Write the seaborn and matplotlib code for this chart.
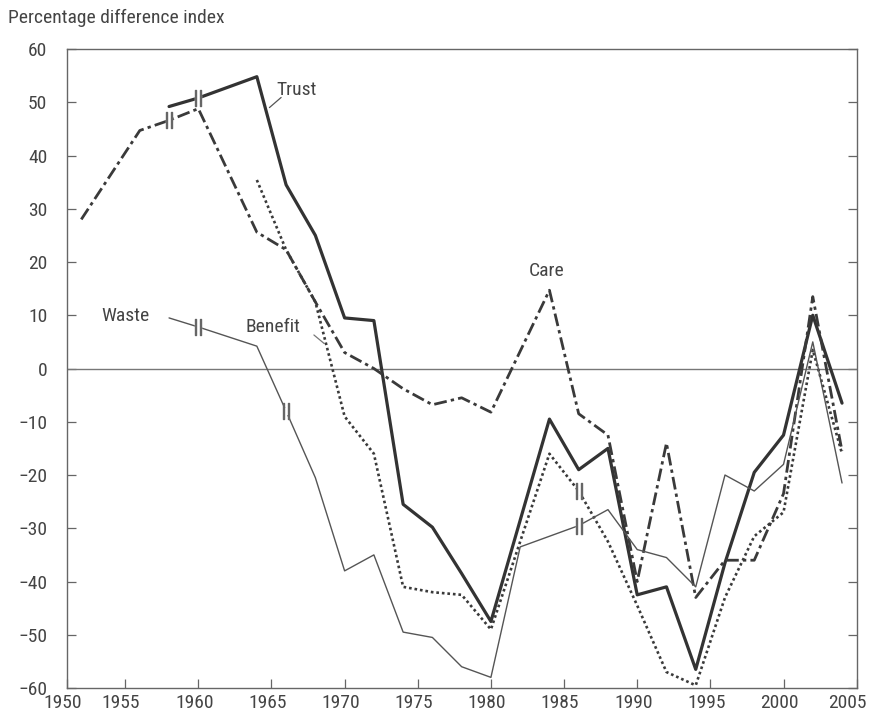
import seaborn as sns
import matplotlib.pyplot as plt
import matplotlib.transforms as mtransforms
import pandas as pd
from matplotlib import font_manager

# values
trust_years = [1958, 1960, 1964, 1966, 1968, 1970, 1972, 1974, 1976, 1978, 1980,
               1984, 1986, 1988, 1990, 1992, 1994, 1996, 1998, 2000, 2002, 2004]
trust = [49.2, 50.8, 54.8, 34.5, 25.0, 9.5, 9.0, -25.5, -29.8, -38.5, -47.5,
         -9.5, -19.0, -15.0, -42.5, -41.0, -56.5, -36.5, -19.5, -12.5, 10.0, -6.5]

care_years = [1952, 1956, 1958, 1960, 1964, 1966, 1968, 1970, 1972, 1974, 1976, 1978,
              1980, 1984, 1986, 1988, 1990, 1992, 1994, 1996, 1998, 2000, 2002, 2004]
care = [28.0, 44.7, 46.6, 48.8, 25.6, 22.3, 12.5, 3.0, 0.0, -3.8, -6.8, -5.5,
        -8.2, 14.7, -8.5, -12.5, -40.0, -14.0, -43.0, -36.0, -36.0, -23.5, 13.5, -15.5]

benefit_years = [1964, 1966, 1968, 1970, 1972, 1974, 1976, 1978, 1980, 1984,
                 1986, 1988, 1990, 1992, 1994, 1996, 1998, 2000, 2002, 2004]
benefit = [35.4, 22.3, 12.5, -9.0, -16.0, -41.0, -42.0, -42.5, -49.0, -16.0,
           -23.0, -32.5, -44.5, -57.0, -59.5, -43.0, -31.5, -27.0, 3.5, -16.0]

waste_years = [1958, 1960, 1964, 1966, 1968, 1970, 1972, 1974, 1976, 1978, 1980,
               1982, 1986, 1988, 1990, 1992, 1994, 1996, 1998, 2000, 2002, 2004]
waste = [9.5, 7.8, 4.2, -8.0, -20.5, -38.0, -35.0, -49.5, -50.5, -56.0, -58.0,
         -33.5, -29.5, -26.5, -34.0, -35.5, -41.0, -20.0, -23.0, -18.0, 5.0, -21.5]

# years where the series has a break sign
breaks = {"Care": [1958], "Trust": [1960], "Waste": [1960, 1966, 1986], "Benefit": [1986]}

xticks = [1951, 1955, 1960, 1965, 1970, 1975, 1980, 1985, 1990, 1995, 2000, 2005]
xticklabels = ["1950", "1955", "1960", "1965", "1970", "1975", "1980", "1985",
               "1990", "1995", "2000", "2005"]
yticks = list(range(-60, 61, 10))


def pick_font():
    names = {f.name for f in font_manager.fontManager.ttflist}
    for cand in ["Liberation Sans Narrow", "Roboto Condensed", "Roboto", "Liberation Sans"]:
        if cand in names:
            return cand
    return "DejaVu Sans"


def create_chart():
    sns.set_style("ticks")
    font = pick_font()
    plt.rcParams["font.family"] = [font, "DejaVu Sans"]

    df = pd.concat([
        pd.DataFrame({"year": trust_years, "value": trust, "series": "Trust"}),
        pd.DataFrame({"year": care_years, "value": care, "series": "Care"}),
        pd.DataFrame({"year": benefit_years, "value": benefit, "series": "Benefit"}),
        pd.DataFrame({"year": waste_years, "value": waste, "series": "Waste"}),
    ], ignore_index=True)

    colors = {"Trust": "#333333", "Care": "#3a3a3a", "Benefit": "#3a3a3a", "Waste": "#555555"}
    widths = {"Trust": 2.3, "Care": 2.0, "Benefit": 1.9, "Waste": 1.0}
    dashes = {"Trust": "", "Care": (4.6, 1.5, 1.2, 1.5), "Benefit": (1, 1.1), "Waste": ""}

    fig = plt.figure(figsize=(8.69, 7.25), dpi=100)
    ax = fig.add_axes([0.0767, 0.051, 0.9091, 0.8814])

    ax.axhline(0, color="#777777", lw=1.0, zorder=1)

    sns.lineplot(data=df, x="year", y="value", hue="series", style="series",
                 size="series", palette=colors, dashes=dashes, sizes=widths,
                 errorbar=None, legend=False, ax=ax, zorder=3)

    for name, yrs in breaks.items():
        sub = df[(df["series"] == name) & (df["year"].isin(yrs))]
        ax.plot(sub["year"], sub["value"], ls="none", marker="s", ms=4.5,
                mfc="white", mec="white", zorder=4)
        ax.plot(sub["year"], sub["value"], ls="none", marker="$||$", ms=12,
                color="#666666", zorder=5)

    txt = dict(fontsize=14, color="#444444", ha="center", va="center")
    ax.text(1966.75, 52.3, "Trust", **txt)
    ax.text(1983.8, 18.3, "Care", **txt)
    ax.text(1955.05, 9.9, "Waste", **txt)
    ax.text(1965.1, 7.8, "Benefit", **txt)
    ax.plot([1965.66, 1964.86], [50.9, 49.0], color="#555555", lw=0.9)
    ax.plot([1967.9, 1968.6], [6.3, 4.7], color="#777777", lw=0.9)

    ax.set_xlim(1951, 2005)
    ax.set_ylim(-60, 60)
    ax.set_xticks(xticks)
    ax.set_xticklabels(xticklabels)
    ax.set_yticks(yticks)
    ax.set_xlabel(None)
    ax.set_ylabel(None)
    ax.tick_params(direction="in", length=6.5, width=0.9, colors="#666666",
                   labelcolor="#444444", labelsize=14, right=True, top=False)
    ax.tick_params(axis="y", pad=14)
    ax.tick_params(axis="x", pad=4)
    shift = mtransforms.ScaledTranslation(-4 / 100, 0, fig.dpi_scale_trans)
    labs = ax.get_xticklabels()
    for lab in labs[:-1]:
        lab.set_transform(lab.get_transform() + shift)
    # last label sits flush at the right edge
    labs[-1].set_horizontalalignment("right")
    labs[-1].set_transform(labs[-1].get_transform()
                           + mtransforms.ScaledTranslation(10 / 100, 0, fig.dpi_scale_trans))
    for sp in ax.spines.values():
        sp.set_color("#666666")
        sp.set_linewidth(1.0)
        sp.set_visible(True)

    fig.text(8 / 869, 1 - 18 / 725, "Percentage difference index", fontsize=14,
             color="#444444", ha="left", va="center")

    fig.savefig("out.png", dpi=100, facecolor="white")


if __name__ == "__main__":
    create_chart()
